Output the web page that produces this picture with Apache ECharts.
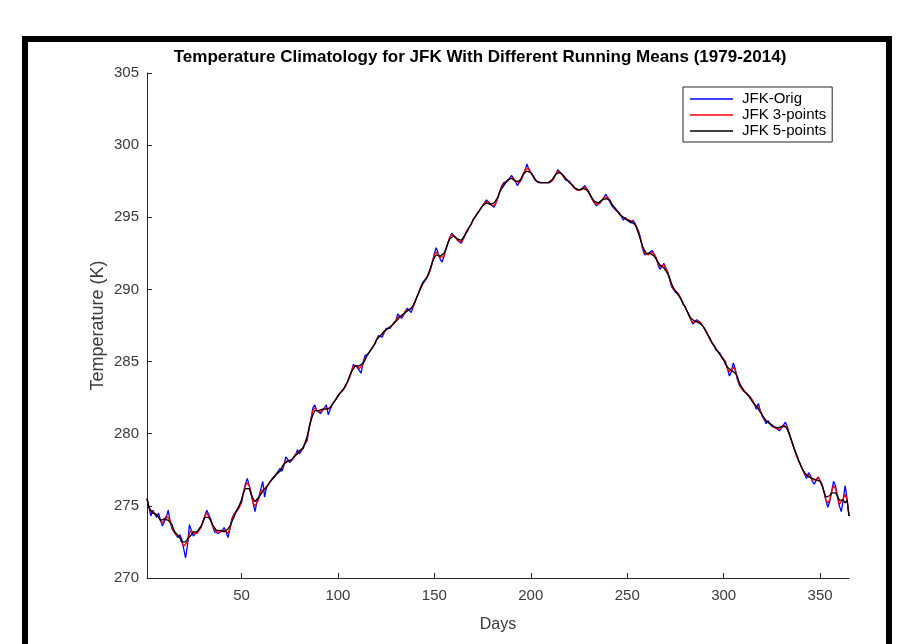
<!DOCTYPE html>
<html><head><meta charset="utf-8">
<script src="https://cdn.jsdelivr.net/npm/echarts@6/dist/echarts.min.js"></script>
<style>html,body{margin:0;padding:0;background:#fff}#c{width:913px;height:644px}</style>
</head><body><div id="c"></div>
<script>
const titleText = 'Temperature Climatology for JFK With Different Running Means (1979-2014)';
const xName = 'Days';
const yName = 'Temperature (K)';
const seriesNames = ['JFK-Orig', 'JFK 3-points', 'JFK 5-points'];
const xTicks = [50, 100, 150, 200, 250, 300, 350];

const jfkOrig = [
275.5,274.9,274.3,274.7,274.6,274.2,274.5,274.0,273.6,273.9,
274.2,274.7,273.9,273.4,273.3,273.0,272.8,273.0,272.7,272.6,
271.4,272.3,273.7,273.3,272.9,273.0,273.2,273.2,273.5,273.9,
274.3,274.7,274.4,274.1,273.6,273.2,273.3,273.1,273.2,273.3,
273.5,273.2,272.8,273.4,274.1,274.4,274.6,274.6,275.0,275.2,
275.9,276.5,276.9,276.4,275.9,275.2,274.6,275.3,275.6,275.6,
276.7,275.6,276.3,276.5,276.6,276.9,277.0,277.2,277.1,277.6,
277.4,277.8,278.4,278.2,278.0,278.1,278.3,278.5,278.9,278.6,
278.8,279.1,279.2,279.5,280.3,281.0,281.8,282.0,281.6,281.5,
281.4,281.6,281.8,282.0,281.3,281.7,282.0,282.2,282.4,282.6,
282.8,282.9,283.1,283.3,283.6,283.9,284.3,284.8,284.9,284.6,
284.7,284.2,284.9,285.4,285.3,285.6,285.8,285.9,286.2,286.5,
286.8,286.9,286.7,287.0,287.3,287.4,287.3,287.5,287.4,287.8,
288.3,288.2,288.0,288.2,288.5,288.7,288.6,288.4,288.8,289.2,
289.5,289.8,290.2,290.5,290.6,290.8,290.9,291.4,291.9,292.5,
292.9,292.5,292.1,291.9,292.3,292.8,293.2,293.6,293.9,293.8,
293.6,293.4,293.3,293.2,293.5,293.8,294.1,294.3,294.5,294.8,
295.0,295.2,295.3,295.6,295.8,296.0,296.2,296.1,295.9,295.8,
295.7,296.0,296.4,296.8,297.2,297.4,297.3,297.5,297.7,297.9,
297.7,297.5,297.2,297.4,297.6,297.9,298.2,298.7,298.3,298.1,
297.9,297.6,297.5,297.4,297.3,297.4,297.3,297.4,297.5,297.4,
297.5,297.7,298.0,298.3,298.3,298.0,297.8,297.6,297.7,297.5,
297.3,297.1,297.0,296.9,296.8,296.9,297.0,297.2,297.1,296.8,
296.5,296.2,296.0,295.8,295.9,296.0,296.1,296.4,296.6,296.3,
296.2,295.8,295.9,295.5,295.4,295.3,295.2,294.8,295.0,294.8,
294.9,294.6,294.8,294.6,294.3,294.0,293.5,292.8,292.4,292.3,
292.5,292.4,292.7,292.6,292.2,291.7,291.4,291.6,291.8,291.7,
291.2,290.7,290.2,290.1,289.8,289.9,289.6,289.3,289.0,288.8,
288.5,288.3,287.9,287.6,287.7,287.9,287.8,287.7,287.5,287.3,
287.1,286.8,286.5,286.3,286.1,285.8,285.7,285.6,285.3,285.2,
285.0,284.5,284.0,284.3,284.9,284.5,283.8,283.4,283.2,283.0,
282.9,282.8,282.7,282.5,282.3,282.0,281.7,282.1,281.6,281.2,
281.0,280.7,280.9,280.7,280.5,280.6,280.4,280.3,280.2,280.4,
280.6,280.8,280.5,280.0,279.6,279.2,278.8,278.4,278.1,277.8,
277.5,277.2,276.9,277.3,277.1,276.7,276.5,276.8,277.0,277.1,
276.5,276.0,275.4,274.9,275.3,276.0,276.7,276.4,275.6,275.0,
274.6,275.4,276.4,275.5,274.3
];

const jfk3pt = [
275.5,274.9,274.6,274.5,274.5,274.4,274.2,274.0,273.8,273.9,
274.3,274.3,274.0,273.5,273.2,273.0,272.9,272.8,272.8,272.2,
272.1,272.5,273.1,273.3,273.1,273.0,273.1,273.3,273.5,273.9,
274.3,274.5,274.4,274.0,273.6,273.4,273.2,273.2,273.2,273.3,
273.3,273.2,273.1,273.4,274.0,274.4,274.5,274.7,274.9,275.4,
275.9,276.4,276.6,276.4,275.8,275.2,275.0,275.2,275.5,276.0,
276.0,276.2,276.1,276.5,276.7,276.8,277.0,277.1,277.3,277.4,
277.6,277.9,278.1,278.2,278.1,278.1,278.3,278.6,278.7,278.8,
278.8,279.0,279.3,279.7,280.3,281.0,281.6,281.8,281.7,281.5,
281.5,281.6,281.8,281.7,281.7,281.7,282.0,282.2,282.4,282.6,
282.8,282.9,283.1,283.3,283.6,283.9,284.3,284.7,284.8,284.7,
284.5,284.6,284.8,285.2,285.4,285.6,285.8,286.0,286.2,286.5,
286.7,286.8,286.9,287.0,287.2,287.3,287.4,287.4,287.6,287.8,
288.1,288.2,288.1,288.2,288.5,288.6,288.6,288.6,288.8,289.2,
289.5,289.8,290.2,290.4,290.6,290.8,291.0,291.4,291.9,292.4,
292.6,292.5,292.2,292.1,292.3,292.8,293.2,293.6,293.8,293.8,
293.6,293.4,293.3,293.3,293.5,293.8,294.1,294.3,294.5,294.8,
295.0,295.2,295.4,295.6,295.8,296.0,296.1,296.1,295.9,295.8,
295.8,296.0,296.4,296.8,297.1,297.3,297.4,297.5,297.7,297.8,
297.7,297.5,297.4,297.4,297.6,297.9,298.3,298.4,298.4,298.1,
297.9,297.7,297.5,297.4,297.4,297.3,297.4,297.4,297.4,297.5,
297.5,297.7,298.0,298.2,298.2,298.0,297.8,297.7,297.6,297.5,
297.3,297.1,297.0,296.9,296.9,296.9,297.0,297.1,297.0,296.8,
296.5,296.2,296.0,295.9,295.9,296.0,296.2,296.4,296.4,296.4,
296.1,296.0,295.7,295.6,295.4,295.3,295.1,295.0,294.9,294.9,
294.8,294.8,294.7,294.6,294.3,293.9,293.4,292.9,292.5,292.4,
292.4,292.5,292.6,292.5,292.2,291.8,291.6,291.6,291.7,291.6,
291.2,290.7,290.3,290.0,289.9,289.8,289.6,289.3,289.0,288.8,
288.5,288.2,287.9,287.7,287.7,287.8,287.8,287.7,287.5,287.3,
287.1,286.8,286.5,286.3,286.1,285.9,285.7,285.5,285.4,285.2,
284.9,284.5,284.3,284.4,284.6,284.4,283.9,283.5,283.2,283.0,
282.9,282.8,282.7,282.5,282.3,282.0,281.9,281.8,281.6,281.3,
281.0,280.9,280.8,280.7,280.6,280.5,280.4,280.3,280.3,280.4,
280.6,280.6,280.4,280.0,279.6,279.2,278.8,278.4,278.1,277.8,
277.5,277.2,277.1,277.1,277.0,276.8,276.7,276.8,277.0,276.9,
276.5,276.0,275.4,275.2,275.4,276.0,276.4,276.2,275.7,275.1,
275.0,275.5,275.8,275.4,274.3
];

const jfk5pt = [
275.5,274.9,274.8,274.5,274.5,274.4,274.2,274.0,274.0,274.1,
274.1,274.0,273.9,273.7,273.3,273.1,273.0,272.8,272.5,272.4,
272.5,272.7,272.7,273.0,273.2,273.1,273.2,273.4,273.6,273.9,
274.2,274.3,274.2,274.0,273.7,273.5,273.3,273.2,273.3,273.3,
273.2,273.2,273.4,273.6,273.9,274.2,274.5,274.8,275.1,275.4,
275.9,276.2,276.3,276.2,275.8,275.5,275.3,275.3,275.6,275.8,
276.0,276.1,276.3,276.4,276.7,276.8,277.0,277.2,277.3,277.4,
277.7,277.9,278.0,278.1,278.2,278.2,278.4,278.5,278.6,278.8,
278.9,279.0,279.4,279.8,280.4,280.9,281.3,281.6,281.7,281.6,
281.6,281.7,281.6,281.7,281.8,281.8,281.9,282.2,282.4,282.6,
282.8,282.9,283.1,283.4,283.6,284.0,284.3,284.5,284.7,284.6,
284.7,284.8,284.9,285.1,285.4,285.6,285.8,286.0,286.2,286.5,
286.6,286.8,286.9,287.1,287.1,287.3,287.4,287.5,287.7,287.8,
287.9,288.1,288.2,288.3,288.4,288.5,288.6,288.7,288.9,289.1,
289.5,289.8,290.1,290.4,290.6,290.8,291.1,291.5,291.9,292.2,
292.4,292.4,292.3,292.3,292.5,292.8,293.2,293.5,293.6,293.7,
293.6,293.5,293.4,293.4,293.6,293.8,294.0,294.3,294.5,294.8,
295.0,295.2,295.4,295.6,295.8,295.9,296.0,296.0,295.9,295.9,
296.0,296.1,296.4,296.8,297.0,297.2,297.4,297.6,297.6,297.7,
297.6,297.5,297.5,297.5,297.7,298.0,298.1,298.2,298.2,298.1,
297.9,297.7,297.5,297.4,297.4,297.4,297.4,297.4,297.4,297.5,
297.6,297.8,298.0,298.1,298.1,298.0,297.9,297.7,297.6,297.4,
297.3,297.2,297.0,296.9,296.9,297.0,297.0,297.0,296.9,296.8,
296.5,296.3,296.1,296.0,296.0,296.0,296.2,296.3,296.3,296.3,
296.2,295.9,295.8,295.6,295.5,295.2,295.1,295.0,294.9,294.8,
294.8,294.7,294.6,294.5,294.2,293.8,293.4,293.0,292.7,292.5,
292.5,292.5,292.5,292.3,292.1,291.9,291.7,291.6,291.5,291.4,
291.1,290.8,290.4,290.1,289.9,289.7,289.5,289.3,289.0,288.8,
288.5,288.2,288.0,287.9,287.8,287.7,287.7,287.6,287.5,287.3,
287.0,286.8,286.6,286.3,286.1,285.9,285.7,285.5,285.4,285.1,
284.8,284.6,284.5,284.4,284.3,284.2,284.0,283.6,283.3,283.1,
282.9,282.8,282.6,282.5,282.2,282.1,281.9,281.7,281.5,281.3,
281.1,280.9,280.8,280.7,280.6,280.5,280.4,280.4,280.4,280.5,
280.5,280.5,280.3,280.0,279.6,279.2,278.8,278.5,278.1,277.8,
277.5,277.3,277.2,277.0,276.9,276.9,276.8,276.8,276.8,276.7,
276.4,276.0,275.6,275.5,275.7,275.9,276.0,275.9,275.7,275.4,
275.4,275.4,275.2,275.4,274.3
];

const FONT = '"Liberation Sans", Arial, Helvetica, sans-serif';
const AXIS_COLOR = '#262626';
const LABEL_COLOR = '#3a3a3a';
const toPairs = arr => arr.map((v, i) => [i + 1, v]);

const chart = echarts.init(document.getElementById('c'), null, {renderer: 'canvas'});
chart.setOption({
  animation: false,
  backgroundColor: '#ffffff',
  textStyle: {fontFamily: FONT},
  grid: {left: 147, top: 73, right: 64, bottom: 66, containLabel: false, outerBoundsMode: 'none'},
  legend: {
    orient: 'vertical',
    left: 683, top: 87,
    data: seriesNames,
    icon: 'rect',
    itemWidth: 43, itemHeight: 1.5,
    itemGap: 0,
    padding: [4, 6, 3, 7],
    backgroundColor: '#ffffff',
    borderColor: AXIS_COLOR,
    borderWidth: 1,
    borderRadius: 0,
    selectedMode: false,
    textStyle: {fontFamily: FONT, fontSize: 15, lineHeight: 16, color: '#000', padding: [0, 0, 0, 4]}
  },
  xAxis: {
    type: 'value', min: 1, max: 365,
    name: xName, nameLocation: 'middle', nameGap: 39, nameMoveOverlap: false,
    nameTextStyle: {fontFamily: FONT, fontSize: 16, color: LABEL_COLOR},
    axisLine: {show: true, onZero: false, lineStyle: {color: AXIS_COLOR, width: 1}},
    axisTick: {show: true, inside: true, length: 5, customValues: xTicks, lineStyle: {color: AXIS_COLOR}},
    axisLabel: {show: true, customValues: xTicks, margin: 10, fontFamily: FONT, fontSize: 15, color: LABEL_COLOR},
    splitLine: {show: false}
  },
  yAxis: {
    type: 'value', min: 270, max: 305, interval: 5,
    name: yName, nameLocation: 'middle', nameGap: 40, nameRotate: 90, nameMoveOverlap: false,
    nameTextStyle: {fontFamily: FONT, fontSize: 18, color: LABEL_COLOR},
    axisLine: {show: true, onZero: false, lineStyle: {color: AXIS_COLOR, width: 1}},
    axisTick: {show: true, inside: true, length: 5, lineStyle: {color: AXIS_COLOR}},
    axisLabel: {show: true, margin: 8, fontFamily: FONT, fontSize: 15, color: LABEL_COLOR},
    splitLine: {show: false}
  },
  graphic: [
    {type: 'rect', silent: true, z: 100,
     shape: {x: 25, y: 39, width: 864, height: 700},
     style: {fill: 'none', stroke: '#000', lineWidth: 6}},
    {type: 'text', silent: true, x: 480, y: 57,
     style: {text: titleText, fontFamily: FONT, fontWeight: 'bold', fontSize: 17, fill: '#000',
             textAlign: 'center', textVerticalAlign: 'middle'}}
  ],
  series: [
    {name: seriesNames[0], type: 'line', data: toPairs(jfkOrig), color: '#0000ff',
     symbol: 'none', showSymbol: false, lineStyle: {width: 1.3, color: '#0000ff'}, z: 2},
    {name: seriesNames[1], type: 'line', data: toPairs(jfk3pt), color: '#ff0000',
     symbol: 'none', showSymbol: false, lineStyle: {width: 1.3, color: '#ff0000'}, z: 3},
    {name: seriesNames[2], type: 'line', data: toPairs(jfk5pt), color: '#000000',
     symbol: 'none', showSymbol: false, lineStyle: {width: 1.3, color: '#000000'}, z: 4}
  ]
});
</script>
</body></html>
